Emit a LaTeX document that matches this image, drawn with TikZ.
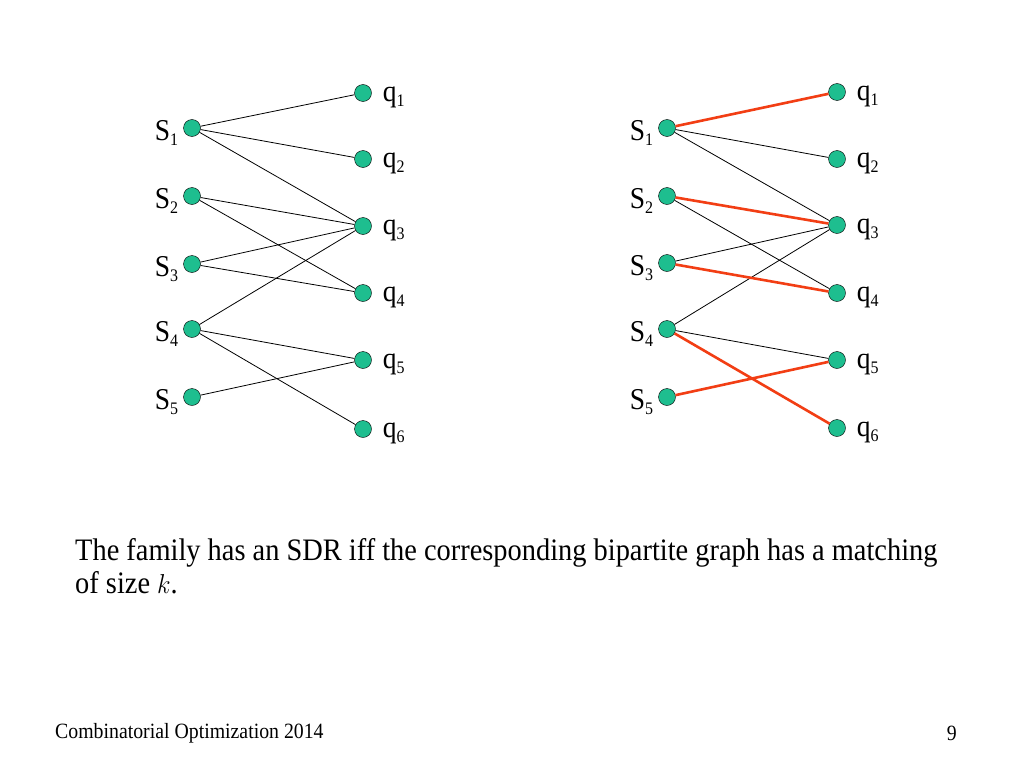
\documentclass[tikz,border=0pt]{standalone}
\usepackage{fontspec}
\setmainfont{Liberation Serif}
\usetikzlibrary{positioning}
\definecolor{vertgreen}{RGB}{30,190,143}
\definecolor{matchred}{RGB}{242,62,20}
\newcommand{\vlab}[2]{\scalebox{1}[1.1]{#1\raisebox{-5pt}{\fontsize{16}{16}\selectfont #2}}}
\newcommand{\slide}[1]{\scalebox{1}[1.1]{#1}}
\tikzset{
  vert/.style={circle,draw=black,fill=vertgreen,inner sep=0pt,minimum size=17pt},
  lab/.style={font=\fontsize{27.5}{30}\selectfont,inner sep=0pt},
  edge/.style={draw=black,line width=0.8pt},
  match/.style={draw=matchred,line width=2.6pt},
  body/.style={anchor=base west,inner sep=0pt,font=\fontsize{28.4}{33}\selectfont}
}
\begin{document}
\begin{tikzpicture}[x=1pt,y=-1pt]
        \useasboundingbox[fill=white] (0,0) rectangle (1024,768);
        % Left bipartite graph
        \node[vert] (s1) at (192,128) {};
        \node[vert] (s2) at (192,196) {};
        \node[vert] (s3) at (192,264) {};
        \node[vert] (s4) at (192,329) {};
        \node[vert] (s5) at (192,397) {};
        \node[vert] (q1) at (363,93) {};
        \node[vert] (q2) at (363,159) {};
        \node[vert] (q3) at (363,226) {};
        \node[vert] (q4) at (363,293) {};
        \node[vert] (q5) at (363,360) {};
        \node[vert] (q6) at (363,429) {};
        \foreach \i in {1,...,5}
          \node[lab,anchor=base east] (ls\i) at ([xshift=-5pt,yshift=-12pt]s\i.west) {\vlab{S}{\i}};
        \foreach \i in {1,...,6}
          \node[lab,anchor=base west] (lq\i) at ([xshift=11pt,yshift=-8pt]q\i.east) {\vlab{q}{\i}};
        \foreach \a/\b in {s1/q1,s1/q2,s1/q3,s2/q3,s2/q4,s3/q3,s3/q4,s4/q3,s4/q5,s4/q6,s5/q5}
          \draw[edge] (\a) -- (\b);
        % Right bipartite graph with a matching
        \node[vert] (rs1) at (667,128) {};
        \node[vert] (rs2) at (667,196) {};
        \node[vert] (rs3) at (667,263) {};
        \node[vert] (rs4) at (667,329) {};
        \node[vert] (rs5) at (667,397) {};
        \node[vert] (rq1) at (837,92) {};
        \node[vert] (rq2) at (837,159) {};
        \node[vert] (rq3) at (837,225) {};
        \node[vert] (rq4) at (837,293) {};
        \node[vert] (rq5) at (837,360) {};
        \node[vert] (rq6) at (837,428) {};
        \foreach \i in {1,...,5}
          \node[lab,anchor=base east] (lrs\i) at ([xshift=-5pt,yshift=-12pt]rs\i.west) {\vlab{S}{\i}};
        \foreach \i in {1,...,6}
          \node[lab,anchor=base west] (lrq\i) at ([xshift=11pt,yshift=-8pt]rq\i.east) {\vlab{q}{\i}};
        \foreach \a/\b in {rs1/rq2,rs1/rq3,rs2/rq4,rs3/rq3,rs4/rq3,rs4/rq5}
          \draw[edge] (\a) -- (\b);
        \foreach \a/\b in {rs1/rq1,rs2/rq3,rs3/rq4,rs4/rq6,rs5/rq5}
          \draw[match] (\a) -- (\b);
        % Statement and footer
        \node[body] (claim) at (75,560)
          {\slide{The family has an SDR iff the corresponding bipartite graph has a matching}};
        \node[body] (claimend) at (75,593) {\slide{of size $k$.}};
        \node[anchor=base west,inner sep=0pt,font=\fontsize{19.8}{22}\selectfont] (foot) at (55,738) {\slide{Combinatorial Optimization 2014}};
        \node[anchor=base east,inner sep=0pt,font=\fontsize{19.8}{22}\selectfont] (page) at (957,740) {\slide{9}};
    \end{tikzpicture}
\end{document}
